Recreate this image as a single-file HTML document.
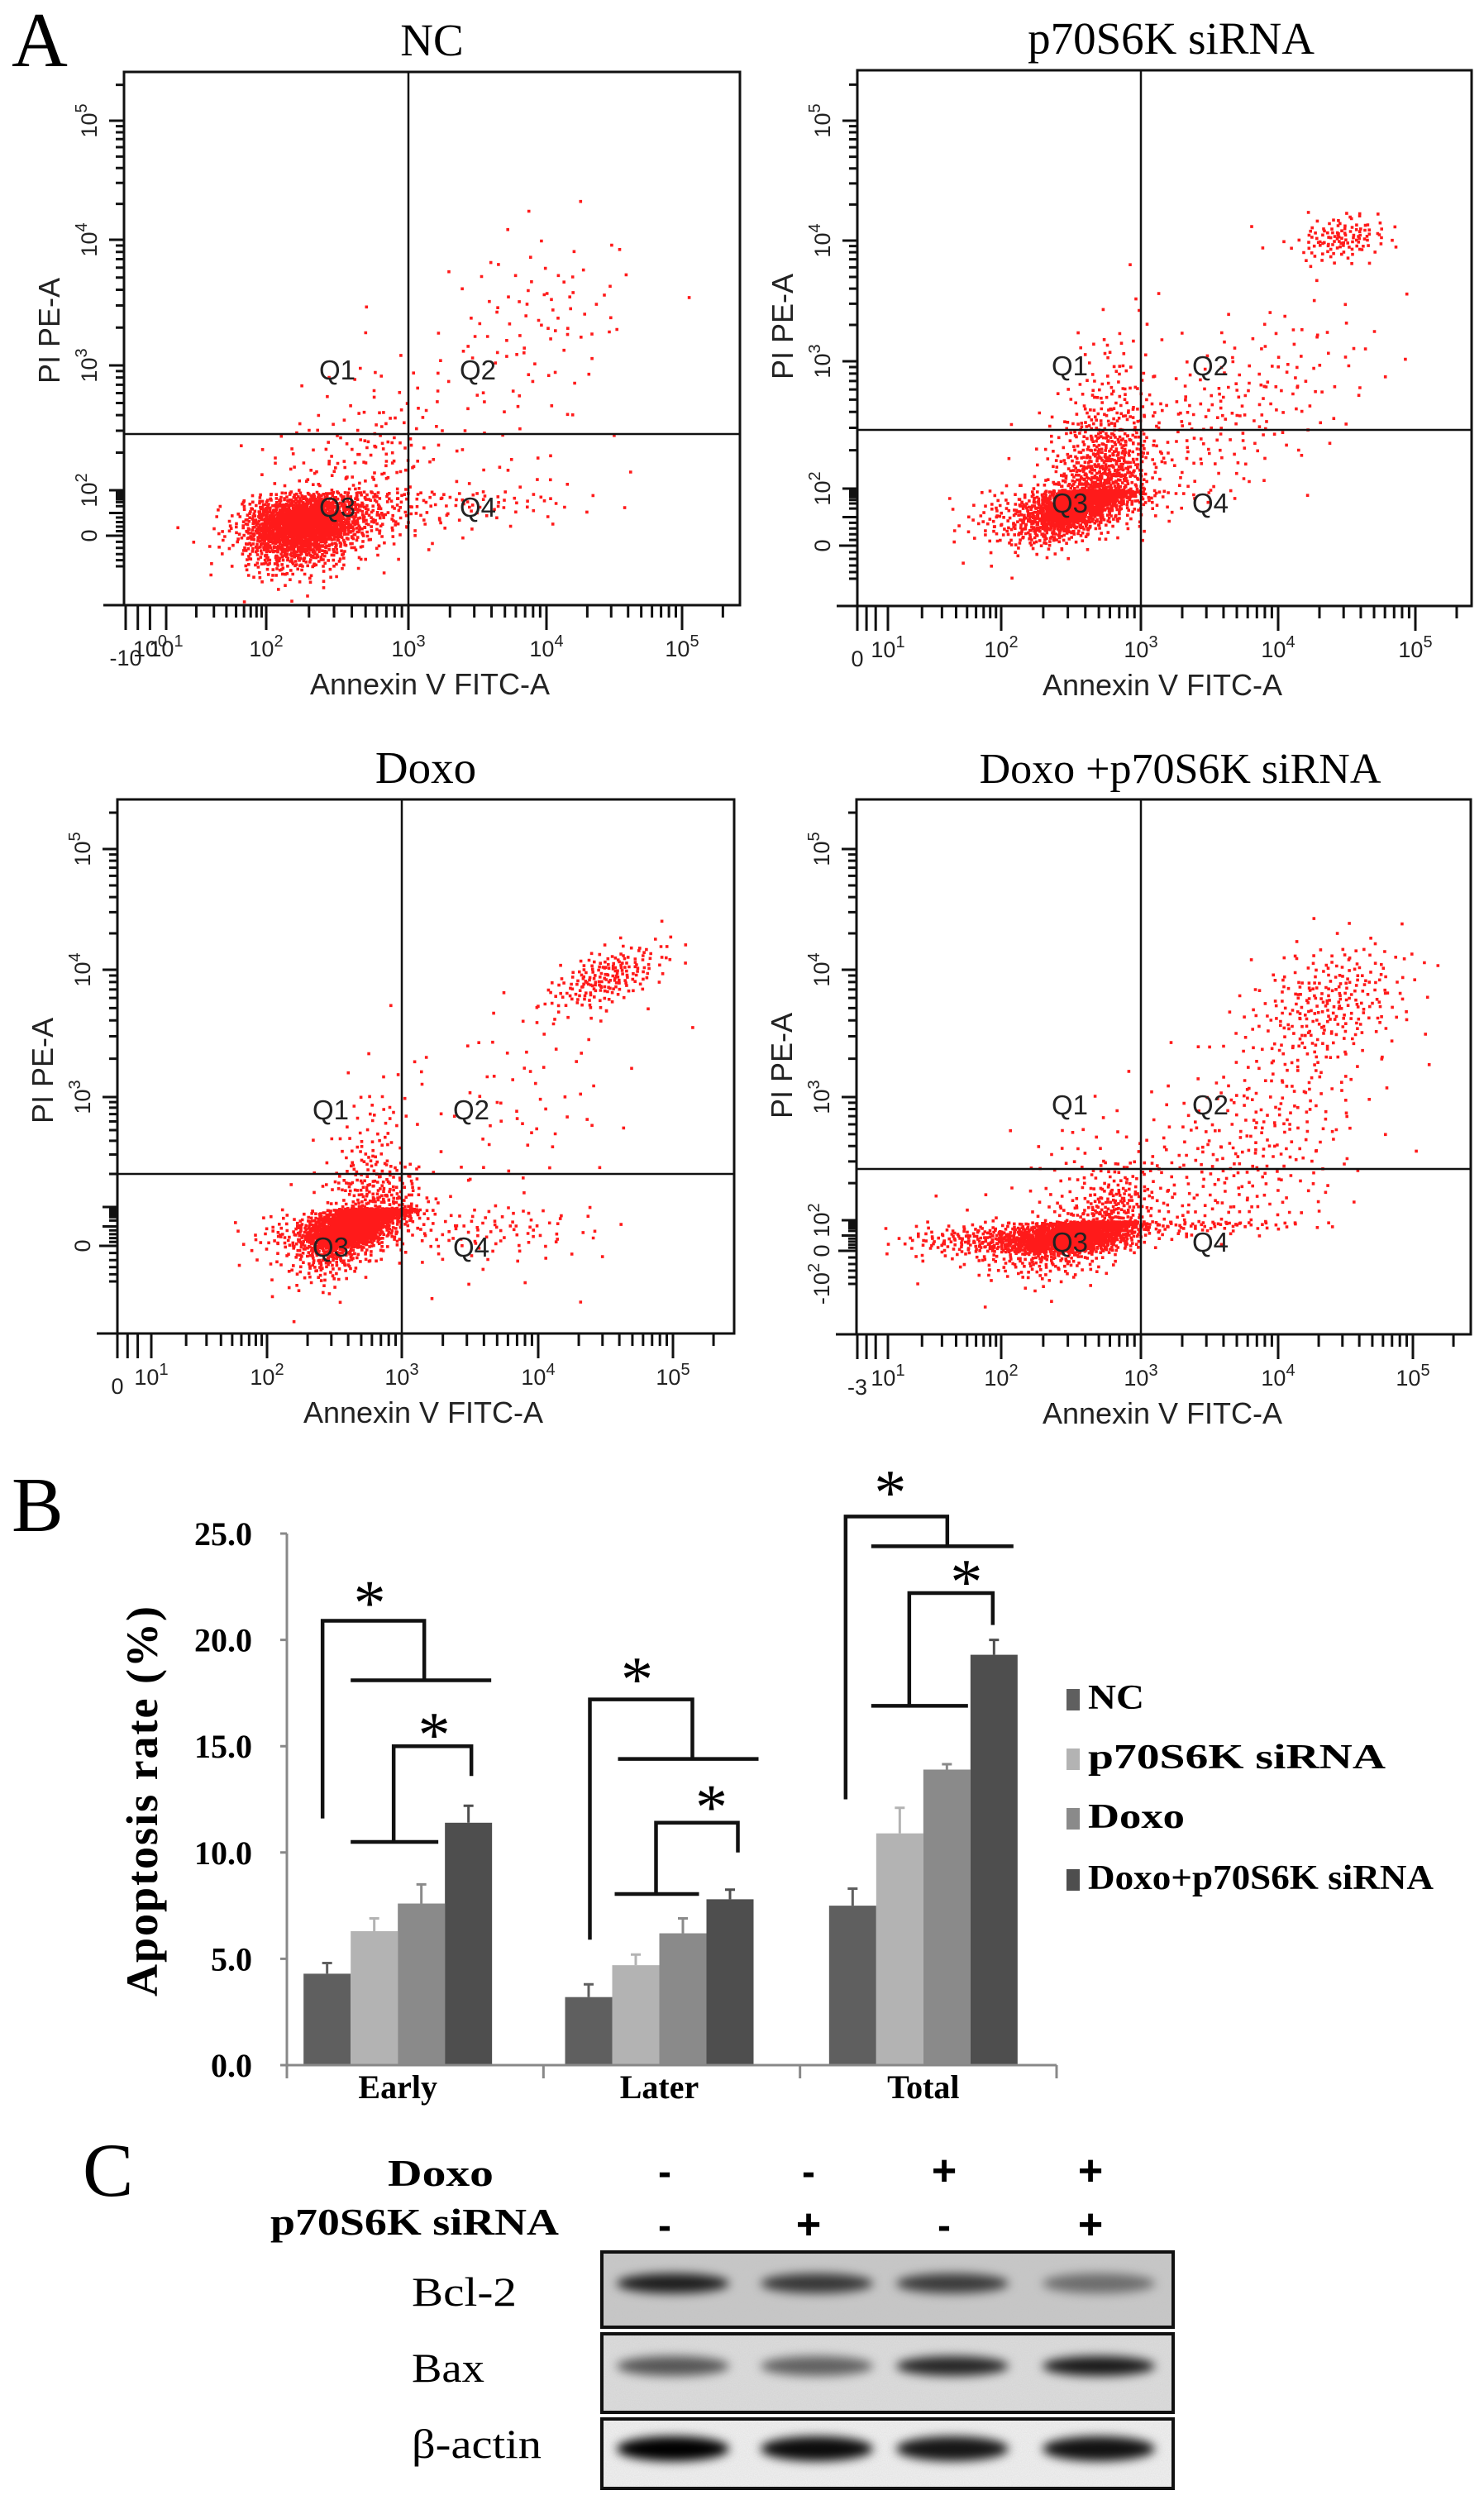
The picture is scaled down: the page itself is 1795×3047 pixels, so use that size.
<!DOCTYPE html>
<html><head><meta charset="utf-8"><title>Apoptosis figure</title>
<style>
html,body{margin:0;padding:0;background:#fff;}
svg{display:block;}
</style></head>
<body>
<svg id="fig" xmlns="http://www.w3.org/2000/svg" width="1795" height="3047" viewBox="0 0 1795 3047">
<defs>
<filter id="blur6" x="-30%" y="-100%" width="160%" height="300%"><feGaussianBlur stdDeviation="6"/></filter>
<filter id="noise" x="0" y="0" width="100%" height="100%">
<feTurbulence type="fractalNoise" baseFrequency="0.9" numOctaves="2" seed="3" result="n"/>
<feColorMatrix type="matrix" values="0 0 0 0 0.5  0 0 0 0 0.5  0 0 0 0 0.5  0 0 0 0.35 0"/>
</filter>
</defs>
</svg>
<script>
// ===== Panel A: flow cytometry clusters [log10 Annexin, log10 PI, sdX, sdY, corr, count] =====
const ncClusters = [[2.25,0.5,0.2,0.75,0.2,1500],[2.35,0.7,0.4,0.85,0.3,500],[2.8,2.3,0.2,0.35,0.3,90],[3.5,1.8,0.45,0.7,0.1,110],[3.95,3.4,0.35,0.35,0.2,80]];
const siClusters = [[2.55,1.6,0.2,0.65,0.6,1300],[2.75,2.0,0.15,0.25,0.4,400],[2.45,1.3,0.35,0.6,0.3,400],[3.5,2.5,0.45,0.4,0.5,200],[4.45,4.03,0.17,0.1,0.2,120],[4.2,3.0,0.35,0.35,0.2,35]];
const doxoClusters = [[2.6,1.0,0.17,0.8,0.5,1500],[2.85,1.8,0.15,0.25,0.4,300],[2.5,0.8,0.3,0.7,0.3,300],[3.6,0.9,0.45,0.9,0.1,120],[4.5,3.95,0.22,0.14,0.6,200],[3.9,3.1,0.4,0.45,0.3,60]];
const comboClusters = [[2.45,0.9,0.25,0.7,0.3,1400],[2.75,1.9,0.15,0.25,0.4,400],[1.8,0.8,0.35,0.6,0.1,200],[3.55,2.3,0.5,0.55,0.4,320],[4.38,3.75,0.3,0.25,0.3,260],[4.05,2.95,0.3,0.4,0.3,90]];

// ===== Panel B: bar chart data =====
const categories = ['Early','Later','Total'];
const seriesNames = ['NC','p70S6K siRNA','Doxo','Doxo+p70S6K siRNA'];
const ncVals = [4.3,3.2,7.5];
const siVals = [6.3,4.7,10.9];
const doxoVals = [7.6,6.2,13.9];
const comboVals = [11.4,7.8,19.3];
const ncErr = [0.5,0.6,0.8];
const siErr = [0.6,0.5,1.2];
const doxoErr = [0.9,0.7,0.25];
const comboErr = [0.8,0.45,0.7];
const yTicks = [0,5,10,15,20,25];
const yTickLabels = ['0.0','5.0','10.0','15.0','20.0','25.0'];

// ===== Panel C: western blot band intensities =====
const laneDoxo = ['-','-','+','+'];
const laneSi = ['-','+','-','+'];
const bcl2Int = [0.85,0.72,0.7,0.45];
const baxInt = [0.6,0.55,0.82,0.88];
const actinInt = [1.0,0.95,0.9,0.92];

const NS='http://www.w3.org/2000/svg';
const svg=document.getElementById('fig');
function mk(tag,attrs,parent){const e=document.createElementNS(NS,tag);for(const k in attrs)e.setAttribute(k,attrs[k]);(parent||svg).appendChild(e);return e;}
function txt(s,attrs,parent){const e=mk('text',attrs,parent);e.textContent=s;return e;}
function pw(anchors,v){let a=anchors;let i=0;while(i<a.length-2&&v>a[i+1][0])i++;const[x0,y0]=a[i],[x1,y1]=a[i+1];return y0+(v-x0)*(y1-y0)/(x1-x0);}
function halton(i,b){let f=1,r=0;while(i>0){f/=b;r+=f*(i%b);i=Math.floor(i/b);}return r;}

// ---- figure letters ----
let t;
t=txt('A',{x:14,y:80,'font-family':'Liberation Serif, serif','font-size':94});


t=txt('B',{x:14,y:1852,'font-family':'Liberation Serif, serif','font-size':94});


t=txt('C',{x:100,y:2656,'font-family':'Liberation Serif, serif','font-size':92});



// ---- flow panels ----
const panels=[
 {name:'nc',title:'NC',l:150,t:87,r:895,b:732,gx:494,gy:525,
  xA:[[0,-342],[1,-293],[2,-172],[3,0],[4,167],[5,331],[6,495]],
  yA:[[-1,160],[0,123],[2,68],[3,-83],[4,-235],[5,-379],[6,-523]],
  xl:[[0,'-10',''],[0.6,'10','0'],[1,'10','1'],[2,'10','2'],[3,'10','3'],[4,'10','4'],[5,'10','5']],
  yl:[[0,'0',''],[2,'10','2'],[3,'10','3'],[4,'10','4'],[5,'10','5']],data:ncClusters},
 {name:'p70s6k-sirna',title:'p70S6K siRNA',l:1037,t:85,r:1780,b:733,gx:1380,gy:520,
  xA:[[0,-343],[1,-306],[2,-169],[3,0],[4,166],[5,332],[6,498]],
  yA:[[-1,180],[0,140],[2,71],[3,-83],[4,-229],[5,-374],[6,-519]],
  xl:[[0,'0',''],[1,'10','1'],[2,'10','2'],[3,'10','3'],[4,'10','4'],[5,'10','5']],
  yl:[[0,'0',''],[2,'10','2'],[3,'10','3'],[4,'10','4'],[5,'10','5']],data:siClusters},
 {name:'doxo',title:'Doxo',l:142,t:967,r:888,b:1613,gx:486,gy:1420,
  xA:[[0,-344],[1,-303],[2,-163],[3,0],[4,165],[5,328],[6,491]],
  yA:[[-1,130],[0,87],[2,40],[3,-93],[4,-247],[5,-393],[6,-539]],
  xl:[[0,'0',''],[1,'10','1'],[2,'10','2'],[3,'10','3'],[4,'10','4'],[5,'10','5']],
  yl:[[0,'0',''],[3,'10','3'],[4,'10','4'],[5,'10','5']],data:doxoClusters},
 {name:'doxo-p70s6k-sirna',title:'Doxo +p70S6K siRNA',l:1036,t:967,r:1779,b:1614,gx:1380,gy:1414,
  xA:[[0,-343],[1,-306],[2,-169],[3,0],[4,166],[5,329],[6,492]],
  yA:[[-1,139],[0,99],[2,62],[3,-87],[4,-241],[5,-387],[6,-533]],
  xl:[[0,'-3',''],[1,'10','1'],[2,'10','2'],[3,'10','3'],[4,'10','4'],[5,'10','5']],
  yl:[[-1,'-10','2'],[0,'0',''],[2,'10','2'],[3,'10','3'],[4,'10','4'],[5,'10','5']],data:comboClusters}
];

panels.forEach((p,pi)=>{
  const g=mk('g',{});
  
  
  const X=v=>p.gx+pw(p.xA,v), Y=v=>p.gy+pw(p.yA,v);
  const tt=txt(p.title,{x:(p.l+p.r)/2+ (pi===3?20:(pi===1?8:0)),y:p.t-20,'text-anchor':'middle','font-family':'Liberation Serif, serif','font-size':pi===3?52:55},g);
  
  
  let d='';
  p.data.forEach((c,ci)=>{
    const [mx,my,sx,sy,rho,n]=c;
    for(let i=1;i<=n;i++){
      const k=i+ci*977+pi*131;
      let u1=halton(k,2), u2=halton(k,3);
      if(u1<1e-4)u1=1e-4;
      const rr=Math.sqrt(-2*Math.log(u1));
      const z1=rr*Math.cos(2*Math.PI*u2), z2=rr*Math.sin(2*Math.PI*u2);
      const lx=mx+sx*z1, ly=my+sy*(rho*z1+Math.sqrt(1-rho*rho)*z2);
      const px=X(lx), py=Y(ly);
      if(px<p.l+3||px>p.r-5||py<p.t+3||py>p.b-5)continue;
      d+='M'+px.toFixed(1)+' '+py.toFixed(1)+'h3.6v3.6h-3.6z';
    }
  });
  const dots=mk('path',{d:d,fill:'#ff1a1a'},g);
  
  
  const box=mk('rect',{x:p.l,y:p.t,width:p.r-p.l,height:p.b-p.t,fill:'none',stroke:'#111','stroke-width':3},g);
  
  
  const axl=mk('line',{x1:p.l-25,y1:p.b,x2:p.l,y2:p.b,stroke:'#111','stroke-width':3},g);
  
  
  const gv=mk('line',{x1:p.gx,y1:p.t,x2:p.gx,y2:p.b,stroke:'#111','stroke-width':2.5},g);
  
  
  const gh=mk('line',{x1:p.l,y1:p.gy,x2:p.r,y2:p.gy,stroke:'#111','stroke-width':2.5},g);
  
  
  [['Q1',-86,-66],['Q2',84,-66],['Q3',-86,100],['Q4',84,100]].forEach(q=>{
    const e=txt(q[0],{x:p.gx+q[1],y:p.gy+q[2],'text-anchor':'middle','font-family':'Liberation Sans, sans-serif','font-size':33,fill:'#222'},g);
    
    
  });
  let td='';
  const xmax=p.r;
  for(let dec=1;dec<=5;dec++){
    for(let m=1;m<=9;m++){
      const lv=dec+Math.log10(m); const px=X(lv); if(px>xmax-4)continue;
      td+='M'+px+' '+p.b+'v'+(m===1?30:15);
    }
  }
  [0,0.3,0.6].forEach(v=>{td+='M'+X(v)+' '+p.b+'v30';});
  for(let dec=1;dec<=5;dec++){for(let m=1;m<=9;m++){const lv=dec+Math.log10(m);const py=Y(lv);if(py<p.t+4)continue;td+='M'+p.l+' '+py+'h'+(m===1?-18:-10);}}
  for(let v=-1;v<1;v+=0.2){const py=Y(v);if(py>p.b-4)continue;td+='M'+p.l+' '+py+'h-10';}
  td+='M'+p.l+' '+Y(0)+'h-22';
  const ticks=mk('path',{d:td,stroke:'#111','stroke-width':3,fill:'none'},g);
  
  
  p.xl.forEach(l=>{
    const px=X(l[0]);
    const e=txt('',{x:px,y:p.b+(l[2]===''||l[1]==='-10'?73:62),'text-anchor':'middle','font-family':'Liberation Sans, sans-serif','font-size':27,fill:'#222'},g);
    const a=mk('tspan',{},e);a.textContent=l[1];
    if(l[2]){const s=mk('tspan',{dy:-12,'font-size':20},e);s.textContent=l[2];}
    
    
  });
  p.yl.forEach(l=>{
    const py=Y(l[0]);
    const e=txt('',{x:0,y:0,'text-anchor':'middle','font-family':'Liberation Sans, sans-serif','font-size':27,fill:'#222',transform:'translate('+(p.l-33)+','+py+') rotate(-90)'},g);
    const a=mk('tspan',{},e);a.textContent=l[1];
    if(l[2]){const s=mk('tspan',{dy:-12,'font-size':20},e);s.textContent=l[2];}
    
    
  });
  const xt=txt('Annexin V FITC-A',{x:p.gx+26,y:p.b+108,'text-anchor':'middle','font-family':'Liberation Sans, sans-serif','font-size':36,fill:'#222'},g);
  
  
  const yt=txt('PI PE-A',{x:0,y:0,'text-anchor':'middle','font-family':'Liberation Sans, sans-serif','font-size':36,fill:'#222',transform:'translate('+(p.l-78)+','+(p.gy-125)+') rotate(-90)'},g);
  
  
});

// ---- Panel B bar chart ----
const bg=mk('g',{});


const y0=2498, ppu=25.72;
const yS=v=>y0-v*ppu;
const axL=347, axR=1278, grpW=(axR-axL)/3, barW=57;
const gcOf=i=>axL+(i+0.5)*grpW-[21,15,6][i];
const allVals=[ncVals,siVals,doxoVals,comboVals];
const allErr=[ncErr,siErr,doxoErr,comboErr];
const colors=['#5f5f5f','#b3b3b3','#8a8a8a','#4e4e4e'];
categories.forEach((c,i)=>{
  const gc=gcOf(i);
  allVals.forEach((vals,s)=>{
    const x=gc-2*barW+s*barW;
    const v=vals[i], e=allErr[s][i];
    const r=mk('rect',{x:x,y:yS(v),width:barW,height:y0-yS(v),fill:colors[s]},bg);
    
    
    const eb=mk('path',{d:'M'+(x+barW/2)+' '+yS(v)+'V'+yS(v+e)+'M'+(x+barW/2-6)+' '+yS(v+e)+'h12',stroke:colors[s],'stroke-width':3,fill:'none'},bg);
    
    
  });
  const cl=txt(c,{x:gc,y:2538,'text-anchor':'middle','font-family':'Liberation Serif, serif','font-weight':'bold','font-size':40},bg);
  
  
});
let ad='M'+axL+' '+yS(25)+'V'+y0+'H'+axR;
[axL,axL+grpW,axL+2*grpW,axR].forEach(x=>{ad+='M'+x+' '+y0+'v16';});
yTicks.forEach(v=>{ad+='M'+(axL-8)+' '+yS(v)+'h8';});
const axes=mk('path',{d:ad,stroke:'#888','stroke-width':3,fill:'none'},bg);


yTicks.forEach((v,i)=>{
  const e=txt(yTickLabels[i],{x:305,y:yS(v)+14,'text-anchor':'end','font-family':'Liberation Serif, serif','font-weight':'bold','font-size':40},bg);
  
  
});
const ytl=txt('Apoptosis rate (%)',{x:0,y:0,'text-anchor':'middle','font-family':'Liberation Serif, serif','font-weight':'bold','font-size':54,'letter-spacing':2,transform:'translate(190,2178) rotate(-90)'},bg);


const brk=[
 [-91,20.9,32,18.1,-57,113,11.6,-34,22.2, -5,15.0,89,13.6,10.5,-57,49,44,16.0],
 [-84,17.2,40,14.4,-50,120,5.9,-27,18.6, -4,11.4,95,10.0,8.05,-54,48,63,12.6],
 [-94,25.8,29,24.4,-63,109,12.5,-40,27.4, -17,22.2,84,20.7,16.9,-63,54,52,23.2]
];
brk.forEach((b,i)=>{
  const gc=gcOf(i);
  let d='M'+(gc+b[0])+' '+yS(b[6])+'V'+yS(b[1])+'H'+(gc+b[2])+'V'+yS(b[3])+'M'+(gc+b[4])+' '+yS(b[3])+'H'+(gc+b[5]);
  d+='M'+(gc+b[9])+' '+yS(b[13])+'V'+yS(b[10])+'H'+(gc+b[11])+'V'+yS(b[12])+'M'+(gc+b[14])+' '+yS(b[13])+'H'+(gc+b[15]);
  const p=mk('path',{d:d,stroke:'#111','stroke-width':4.5,fill:'none'},bg);
  
  
  [[b[7],b[8]],[b[16],b[17]]].forEach(s=>{
    const e=txt('*',{x:gc+s[0],y:yS(s[1])+38,'text-anchor':'middle','font-family':'Liberation Serif, serif','font-size':78},bg);
    
    
  });
});
const legY=[2067,2139,2211,2285];
seriesNames.forEach((n,s)=>{
  const r=mk('rect',{x:1290,y:legY[s]-24,width:16,height:26,fill:colors[s]},bg);
  
  
  const w=[68,360,117,418][s];
  const e=txt(n,{x:1316,y:legY[s],'font-family':'Liberation Serif, serif','font-weight':'bold','font-size':42,textLength:w,lengthAdjust:'spacingAndGlyphs'},bg);
  
  
});

// ---- Panel C western blot ----
const cg=mk('g',{});


const laneX=[814,988,1152,1329];
let e;
e=txt('Doxo',{x:533,y:2644,'text-anchor':'middle','font-family':'Liberation Serif, serif','font-weight':'bold','font-size':46,textLength:128,lengthAdjust:'spacingAndGlyphs'},cg);


e=txt('p70S6K siRNA',{x:327,y:2703,'font-family':'Liberation Serif, serif','font-weight':'bold','font-size':46,textLength:349,lengthAdjust:'spacingAndGlyphs'},cg);


[[laneDoxo,2643],[laneSi,2708]].forEach(row=>{
  row[0].forEach((s,i)=>{
    const t2=txt(s==='+'?'+':'-',{x:laneX[i]-10,y:row[1],'text-anchor':'middle','font-family':'Liberation Sans, sans-serif','font-weight':'bold','font-size':s==='+'?52:48},cg);
    
    
  });
});
const blots=[['Bcl-2',2724,2815,bcl2Int,2758,'#c8c8c8',2789,127],['Bax',2823,2918,baxInt,2858,'#dedede',2881,88],['β-actin',2926,3010,actinInt,2962,'#f3f3f3',2973,157]];
blots.forEach(b=>{
  const gg=mk('g',{},cg);
  
  
  const r=mk('rect',{x:728,y:b[1],width:691,height:b[2]-b[1],fill:b[5]},gg);
  
  
  const nz=mk('rect',{x:728,y:b[1],width:691,height:b[2]-b[1],fill:'#fff',filter:'url(#noise)'},gg);
  
  
  b[3].forEach((v,i)=>{
    const el2=mk('ellipse',{cx:laneX[i],cy:b[4]+(b[0]==='β-actin'?0:4),rx:68,ry:b[0]==='β-actin'?15:12,fill:'#000','fill-opacity':v,filter:'url(#blur6)'},gg);
    
    
  });
  const fr=mk('rect',{x:728,y:b[1],width:691,height:b[2]-b[1],fill:'none',stroke:'#111','stroke-width':4},gg);
  
  
  const lb=txt(b[0],{x:498,y:b[6],'font-family':'Liberation Serif, serif','font-size':50,textLength:b[7],lengthAdjust:'spacingAndGlyphs'},cg);
  
  
});
</script>
</body></html>
